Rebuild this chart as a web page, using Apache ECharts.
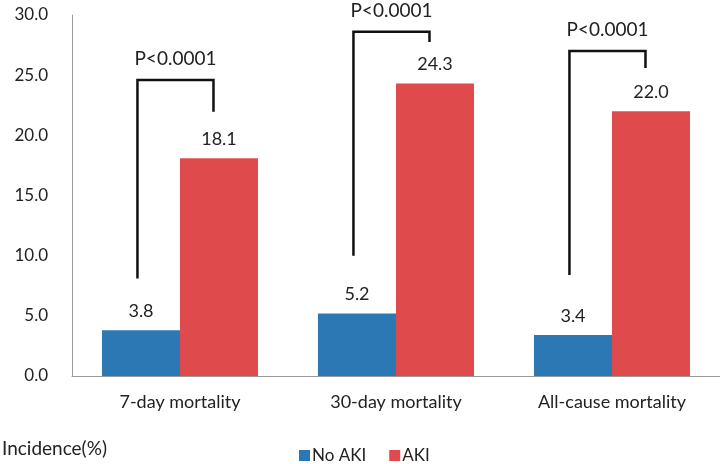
<!DOCTYPE html>
<html>
<head>
<meta charset="utf-8">
<script src="https://cdn.jsdelivr.net/npm/echarts@6/dist/echarts.min.js"></script>
<style>
  html, body { margin: 0; padding: 0; background: #fff; }
  #chart { width: 720px; height: 464px; }
</style>
</head>
<body>
<div id="chart"></div>
<script>
// 数据
const categories = ['7-day mortality', '30-day mortality', 'All-cause mortality'];
const noAki = [3.8, 5.2, 3.4];
const aki = [18.1, 24.3, 22.0];
const pLabels = ['P<0.0001', 'P<0.0001', 'P<0.0001'];
// bracket levels (in %): top bar, end of left leg, end of right leg
const bracketTop = [24.6, 28.6, 27.0];
const bracketLeftEnd = [8.1, 10.0, 8.4];
const bracketRightEnd = [21.95, 27.75, 25.6];
const yTicks = [0, 5, 10, 15, 20, 25, 30];

const font = 'Lato, "Open Sans", sans-serif';
const blue = '#2b78b5';
const red = '#df4b4c';

let myChart = echarts.init(document.getElementById('chart'));

let bracketData = categories.map((c, i) => [i, bracketTop[i], bracketLeftEnd[i], bracketRightEnd[i], pLabels[i]]);

let option = {
  animation: false,
  textStyle: { fontFamily: font },
  grid: { left: 72, right: 0, top: 15, bottom: 88 },
  legend: {
    data: ['No AKI', 'AKI'],
    left: 294,
    top: 442,
    icon: 'rect',
    itemWidth: 11,
    itemHeight: 11,
    itemGap: 23,
    textStyle: { fontSize: 17, color: '#222', fontFamily: font, padding: [0, 0, 0, -3] }
  },
  graphic: [{
    type: 'text',
    left: 2,
    top: 439,
    style: { text: 'Incidence(%)', fontSize: 19, fill: '#222', fontFamily: font }
  }],
  xAxis: {
    type: 'category',
    data: categories,
    axisLine: { lineStyle: { color: '#9a9a9a', width: 1 } },
    axisTick: { show: false },
    axisLabel: { fontSize: 18, color: '#222', margin: 17, fontFamily: font }
  },
  yAxis: {
    type: 'value',
    min: yTicks[0],
    max: yTicks[yTicks.length - 1],
    interval: 5,
    axisLine: { show: true, lineStyle: { color: '#9a9a9a', width: 1 } },
    axisTick: { show: false },
    splitLine: { show: false },
    axisLabel: {
      fontSize: 17, color: '#222', margin: 24, fontFamily: font,
      formatter: v => v.toFixed(1)
    }
  },
  series: [
    {
      name: 'No AKI',
      type: 'bar',
      data: noAki,
      itemStyle: { color: blue },
      barWidth: 78,
      barGap: '0%',
      label: {
        show: true, position: 'top', distance: 10, fontSize: 18, color: '#222',
        fontFamily: font, formatter: p => p.value.toFixed(1)
      }
    },
    {
      name: 'AKI',
      type: 'bar',
      data: aki,
      itemStyle: { color: red },
      barWidth: 78,
      barGap: '0%',
      label: {
        show: true, position: 'top', distance: 10, fontSize: 18, color: '#222',
        fontFamily: font, formatter: p => p.value.toFixed(1)
      }
    },
    {
      type: 'custom',
      name: 'bracket',
      data: bracketData,
      z: 5,
      renderItem: function (params, api) {
        let i = api.value(0);
        let band = api.size([1, 0])[0];
        let top = api.coord([i, api.value(1)]);
        let lEnd = api.coord([i, api.value(2)]);
        let rEnd = api.coord([i, api.value(3)]);
        let xl = top[0] - band * 0.197;
        let xr = top[0] + band * 0.155;
        return {
          type: 'group',
          children: [
            {
              type: 'polyline',
              shape: { points: [[xl, lEnd[1]], [xl, top[1]], [xr, top[1]], [xr, rEnd[1]]] },
              style: { stroke: '#111', lineWidth: 2.5, fill: null }
            },
            {
              type: 'text',
              x: (xl + xr) / 2,
              y: top[1] - 21,
              style: {
                text: api.value(4), fontSize: 19, fill: '#222', fontFamily: font,
                align: 'center', verticalAlign: 'middle'
              }
            }
          ]
        };
      }
    }
  ]
};

myChart.setOption(option);
</script>
</body>
</html>
